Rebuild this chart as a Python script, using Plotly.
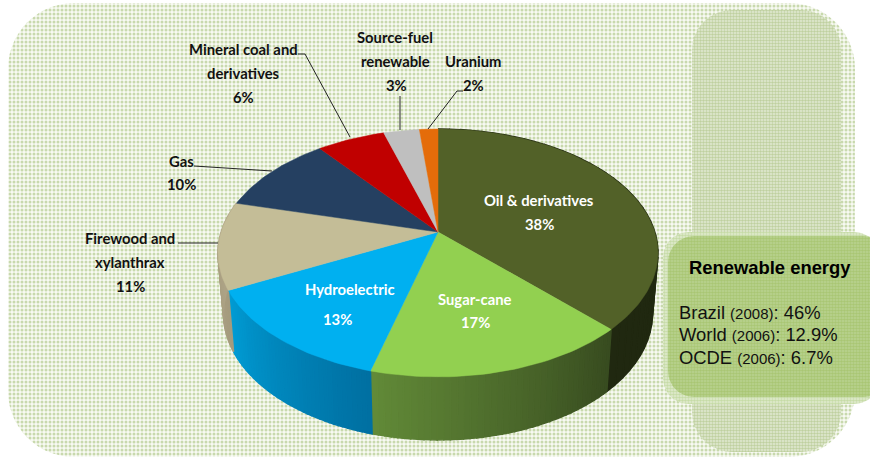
import math
import plotly.graph_objects as go

# ---- data ----
categories = ["Oil & derivatives", "Sugar-cane", "Hydroelectric", "Firewood and xylanthrax",
              "Gas", "Mineral coal and derivatives", "Source-fuel renewable", "Uranium"]
values = [37.6, 16.6, 13.4, 11.4, 10.4, 5.9, 3.1, 1.6]
top_colors = ["#526128", "#92d050", "#00b0f0", "#c4bd97", "#254061", "#c00000", "#bfbfbf", "#e46c0a"]
wall_from = [(32, 40, 16), (56, 76, 32), (0, 112, 162), (165, 155, 126), None, None, None, None]
wall_to = [(32, 40, 16), (98, 138, 56), (0, 156, 212), (178, 168, 138), None, None, None, None]

label_lines = [
    ("Mineral coal and", 243, 49, "#111"), ("derivatives", 243, 73, "#111"), ("6%", 243, 97, "#111"),
    ("Source-fuel", 395, 37, "#111"), ("renewable", 395, 61, "#111"), ("3%", 396, 85, "#111"),
    ("Uranium", 473, 61, "#111"), ("2%", 473, 85, "#111"),
    ("Gas", 181, 161, "#111"), ("10%", 181, 184, "#111"),
    ("Firewood and", 130, 238, "#111"), ("xylanthrax", 130, 262, "#111"), ("11%", 130, 286, "#111"),
    ("Oil & derivatives", 539, 200, "white"), ("38%", 539, 224, "white"),
    ("Sugar-cane", 475, 299, "white"), ("17%", 475, 322, "white"),
    ("Hydroelectric", 350, 289, "white"), ("13%", 337, 319, "white"),
]
leaders = [
    [(298, 54), (305, 54), (350, 137)],
    [(400, 96), (400, 130)],
    [(463, 91), (457, 91), (428, 129)],
    [(194, 166), (272, 171)],
    [(178, 243), (218, 243)],
]
panel_title = "Renewable energy"
panel_rows = [("Brazil", "(2008)", "46%"), ("World", "(2006)", "12.9%"), ("OCDE", "(2006)", "6.7%")]

# ---- projection of the tilted disc ----
CX, CY, A, B, K = 438, 232, 120.4, 216.8, 0.169


def top_pt(theta):
    u, v = math.sin(theta), math.cos(theta)
    d = 1 + K * v
    return CX + B * u / d, CY - A * v / d


def bottom_pt(theta):
    x, y = top_pt(theta)
    return CX + (x - CX) * 0.975, y + 60 - 3 * math.cos(theta)


def rrect(x0, y0, x1, y1, r, n=14):
    xs, ys = [], []
    for cx, cy, a0 in [(x1 - r, y0 + r, -90), (x1 - r, y1 - r, 0), (x0 + r, y1 - r, 90), (x0 + r, y0 + r, 180)]:
        for i in range(n + 1):
            a = math.radians(a0 + 90 * i / n)
            xs.append(cx + r * math.cos(a))
            ys.append(cy + r * math.sin(a))
    return xs + xs[:1], ys + ys[:1]


fig = go.Figure()


def panel(x0, y0, x1, y1, r, fg, bg, shape=".", size=4, sol=0.5):
    xs, ys = rrect(x0, y0, x1, y1, r)
    fig.add_trace(go.Scatter(x=xs, y=ys, mode="lines", line=dict(width=0), fill="toself",
                             fillpattern=dict(shape=shape, size=size, solidity=sol, fgcolor=fg, bgcolor=bg,
                                              fillmode="replace"),
                             hoverinfo="skip", showlegend=False))


panel(8, 3, 855, 457, 66, "#c8d9ad", "#f8faf3", sol=0.45)
panel(692, 10, 841, 452, 40, "#bfd09f", "#e4ecd6", size=3, sol=0.55)
panel(663, 232, 880, 404, 26, "#c6dba6", "#e3edd4", size=3, sol=0.6)
panel(668, 236, 890, 397, 26, "#a9c673", "#bbd393", size=3, sol=0.6)

# ---- walls ----
total = sum(values)
cum = 0
bounds = []
for val in values:
    bounds.append((cum / total * 2 * math.pi, (cum + val) / total * 2 * math.pi))
    cum += val

for i, (t0, t1) in enumerate(bounds):
    if wall_from[i] is None:
        continue
    strips = 40
    for s in range(strips):
        a = t0 + (t1 - t0) * s / strips
        b = t0 + (t1 - t0) * (s + 1) / strips
        f = s / (strips - 1)
        col = tuple(int(wall_from[i][c] + (wall_to[i][c] - wall_from[i][c]) * f) for c in range(3))
        css = "rgb(%d,%d,%d)" % col
        ts = [a, b]
        xt, yt = zip(*[top_pt(t) for t in ts])
        xb, yb = zip(*[bottom_pt(t) for t in reversed(ts)])
        fig.add_trace(go.Scatter(x=list(xt + xb) + [xt[0]], y=list(yt + yb) + [yt[0]], mode="lines",
                                 line=dict(width=1.5, color=css), fill="toself", fillcolor=css,
                                 hoverinfo="skip", showlegend=False))

# ---- top surface ----
for i, (t0, t1) in enumerate(bounds):
    n = max(4, int((t1 - t0) * 40))
    pts = [top_pt(t0 + (t1 - t0) * j / n) for j in range(n + 1)]
    xs = [CX] + [p[0] for p in pts] + [CX]
    ys = [CY] + [p[1] for p in pts] + [CY]
    fig.add_trace(go.Scatter(x=xs, y=ys, mode="lines", name=categories[i],
                             line=dict(width=0.5, color=top_colors[i]), fill="toself", fillcolor=top_colors[i],
                             hoverinfo="name", showlegend=False))

# ---- leaders ----
for pts in leaders:
    fig.add_trace(go.Scatter(x=[p[0] for p in pts], y=[p[1] for p in pts], mode="lines",
                             line=dict(width=1, color="#222"), hoverinfo="skip", showlegend=False))

# ---- text ----
for text, x, y, col in label_lines:
    fig.add_annotation(x=x, y=y, text="<b>%s</b>" % text, showarrow=False, xanchor="center", yanchor="middle",
                       font=dict(family="Lato", size=14.8, color=col))

fig.add_annotation(x=770, y=267, text="<b>%s</b>" % panel_title, showarrow=False, xanchor="center", yanchor="middle",
                   font=dict(family="Liberation Sans", size=18.4, color="black"))
for k, (name, year, val) in enumerate(panel_rows):
    fig.add_annotation(x=677, y=312 + k * 22.5,
                       text="%s <span style='font-size:15px'>%s</span>: %s" % (name, year, val),
                       showarrow=False, xanchor="left", yanchor="middle",
                       font=dict(family="Liberation Sans", size=18.4, color="#111"))

fig.update_layout(width=870, height=459, margin=dict(l=0, r=0, t=0, b=0), showlegend=False,
                  paper_bgcolor="white", plot_bgcolor="white",
                  xaxis=dict(range=[0, 870], visible=False, fixedrange=True),
                  yaxis=dict(range=[459, 0], visible=False, fixedrange=True))
fig.write_html("out.html", post_script="document.body.style.margin='0';", config={"displayModeBar": False})
